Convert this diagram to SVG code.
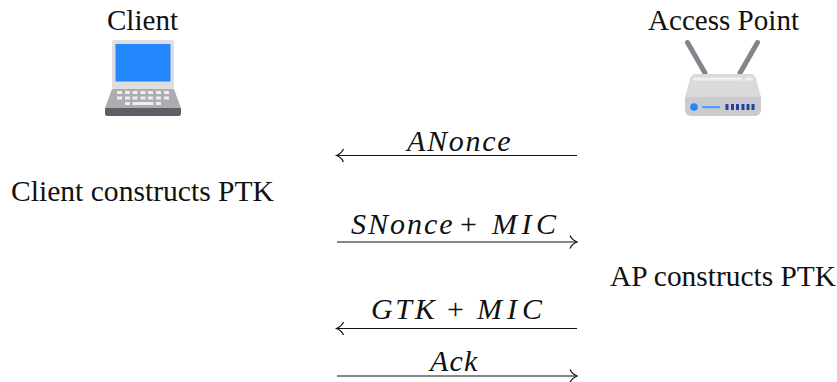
<svg xmlns="http://www.w3.org/2000/svg" width="837" height="382" viewBox="0 0 837 382">
<style>
.t{font-family:"Liberation Serif","Times New Roman",serif;font-size:29px;fill:#111}
.m{font-family:"Liberation Serif","Times New Roman",serif;font-style:italic;font-size:30px;fill:#111}
.p{font-style:normal;letter-spacing:0}
.c{fill:none;stroke:#111;stroke-width:1.2}
</style>
<defs>
<marker id="open" markerUnits="userSpaceOnUse" markerWidth="12" markerHeight="16" refX="10" refY="8" orient="auto-start-reverse" overflow="visible">
<path d="M3 1.500Q5 6 10 8Q5 10 3 14.500" fill="none" stroke="#111" stroke-width="1.200"/>
</marker>
</defs>
<g id="client">
<text class="t" x="107" y="30" textLength="71" lengthAdjust="spacingAndGlyphs">Client</text>
<rect x="112" y="40" width="62" height="49" rx="2" fill="#dedee0"/>
<rect x="115.500" y="44" width="55" height="37.500" fill="#2387fb"/>
<path d="M112 89H174L181 108H105Z" fill="#adadb1"/>
<path d="M105 108H181V113.500a2.500 2.500 0 0 1-2.500 2.500H107.500a2.500 2.500 0 0 1-2.500-2.500Z" fill="#5f5e66"/>
<g fill="#eeeeef">
<rect x="117" y="91" width="5" height="3"/><rect x="125" y="91" width="5" height="3"/><rect x="132.500" y="91" width="5" height="3"/><rect x="140.500" y="91" width="5" height="3"/><rect x="148" y="91" width="5" height="3"/><rect x="156" y="91" width="5" height="3"/><rect x="164" y="91" width="5" height="3"/>
<rect x="117" y="96.500" width="5" height="3"/><rect x="125" y="96.500" width="5" height="3"/><rect x="132.500" y="96.500" width="5" height="3"/><rect x="140.500" y="96.500" width="5" height="3"/><rect x="148" y="96.500" width="5" height="3"/><rect x="156" y="96.500" width="5" height="3"/><rect x="164" y="96.500" width="5" height="3"/>
<rect x="125" y="102" width="5" height="3"/><rect x="132.500" y="102" width="21" height="3"/><rect x="156" y="102" width="5" height="3"/>
</g>
</g>
<g id="access-point">
<text class="t" x="648" y="30" textLength="151" lengthAdjust="spacingAndGlyphs">Access Point</text>
<path d="M687.500 42.500L705 73M757.500 42.500L740 73" stroke="#85848c" stroke-width="5" stroke-linecap="round" fill="none"/>
<path d="M696 74H750Q755 74 756 79L761 97H685L690 79Q691 74 696 74Z" fill="#dad9dc"/>
<path d="M685 97H761V110a6 6 0 0 1-6 6H691a6 6 0 0 1-6-6Z" fill="#cbcace"/>
<rect x="693" y="77.500" width="49.500" height="3" rx="1.500" fill="#efeff0"/>
<rect x="745" y="77.500" width="8" height="3" rx="1.500" fill="#efeff0"/>
<circle cx="694" cy="107" r="3.800" fill="#2387fb"/>
<rect x="702" y="106" width="18" height="2.200" fill="#4fa0fb"/>
<g fill="#24439c"><rect x="725.500" y="104" width="3" height="6"/><rect x="731" y="104" width="3" height="6"/><rect x="736" y="104" width="3" height="6"/><rect x="741.500" y="104" width="3" height="6"/><rect x="746.500" y="104" width="3" height="6"/><rect x="751.500" y="104" width="3" height="6"/></g>
</g>
<g id="client-note"><text class="t" x="11" y="200.500" textLength="263" lengthAdjust="spacingAndGlyphs">Client constructs PTK</text></g>
<g id="ap-note"><text class="t" x="610" y="286" textLength="226" lengthAdjust="spacingAndGlyphs">AP constructs PTK</text></g>
<g id="connectors">
<path class="c" d="M577 155.500H336.500" marker-end="url(#open)"/>
<path class="c" d="M337 242H577" marker-end="url(#open)"/>
<path class="c" d="M577 328.500H336.500" marker-end="url(#open)"/>
<path class="c" d="M337 376H577" marker-end="url(#open)"/>
</g>
<g id="labels">
<text class="m" x="407" y="150.500" letter-spacing="1.700">ANonce</text>
<text class="m" y="234"><tspan x="351" letter-spacing="2">SNonce</tspan><tspan class="p" x="460">+</tspan><tspan x="492" letter-spacing="4.500">MIC</tspan></text>
<text class="m" y="318.500"><tspan x="371" letter-spacing="2.700">GTK</tspan><tspan class="p" x="447">+</tspan><tspan x="477" letter-spacing="5">MIC</tspan></text>
<text class="m" x="430" y="371" letter-spacing="1.200">Ack</text>
</g>
</svg>
